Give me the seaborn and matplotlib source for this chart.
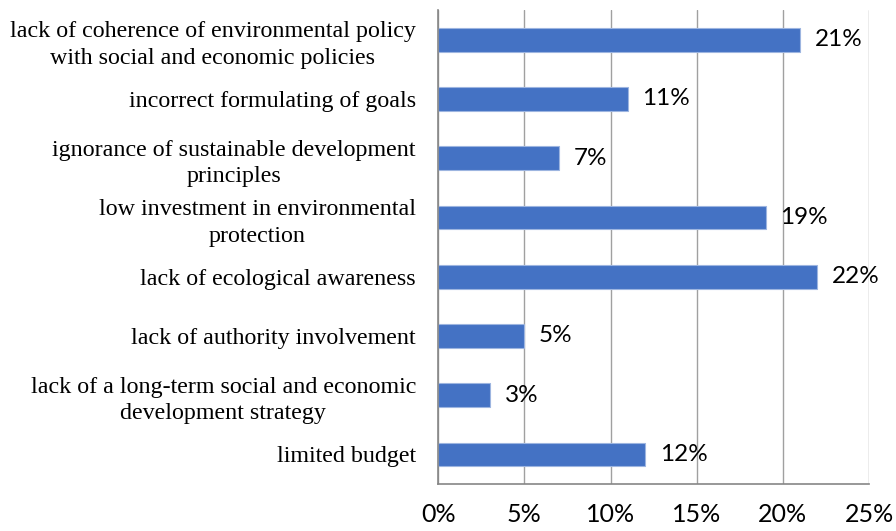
import numpy as np
import pandas as pd
import seaborn as sns
import matplotlib.pyplot as plt

# data
categories = [
    "lack of coherence of environmental policy\nwith social and economic policies",
    "incorrect formulating of goals",
    "ignorance of sustainable development\nprinciples",
    "low investment in environmental\nprotection",
    "lack of ecological awareness",
    "lack of authority involvement",
    "lack of a long-term social and economic\ndevelopment strategy",
    "limited budget",
]
shares = [21, 11, 7, 19, 22, 5, 3, 12]
x_ticks = [0, 5, 10, 15, 20, 25]

df = pd.DataFrame({"cause": categories, "share": shares})

sns.set_style("white")
fig = plt.figure(figsize=(8.96, 5.31), dpi=100)
ax = fig.add_axes([0.489, 0.0885, 0.481, 0.8925])

sns.barplot(data=df, x="share", y="cause", orient="h", color="#4472C4",
            width=0.4, edgecolor="#9DB5E0", linewidth=0.8, saturation=1, ax=ax)

# value labels
for i, v in enumerate(shares):
    ax.text(v + 0.85, i, f"{v}%", va="center", ha="left",
            fontsize=17.5, family="Lato", color="black")

ax.set_xlim(0, 25)
ax.set_ylim(len(categories) - 0.5, -0.5)
ax.set_xticks(x_ticks)
ax.set_xticklabels([f"{t}%" for t in x_ticks], family="Lato", fontsize=18,
                   color="black")
ax.set_yticks(range(len(categories)))
ax.set_yticklabels(categories, family="Liberation Serif", fontsize=17.3,
                   multialignment="center", linespacing=1.35, color="black")
ax.set_yticks(np.arange(-0.5, len(categories)), minor=True)
ax.tick_params(axis="y", which="major", length=0, pad=16)
ax.tick_params(axis="y", which="minor", length=6, color="#868686", width=1)
ax.tick_params(axis="x", length=6, color="#868686", width=1, pad=8)
ax.set_xlabel("")
ax.set_ylabel("")

ax.grid(axis="x", color="#A0A0A0", linewidth=1)
ax.set_axisbelow(True)
for side in ["top", "right"]:
    ax.spines[side].set_visible(False)
for side in ["left", "bottom"]:
    ax.spines[side].set_color("#868686")
    ax.spines[side].set_linewidth(1.2)

fig.savefig("out.png", dpi=100)
